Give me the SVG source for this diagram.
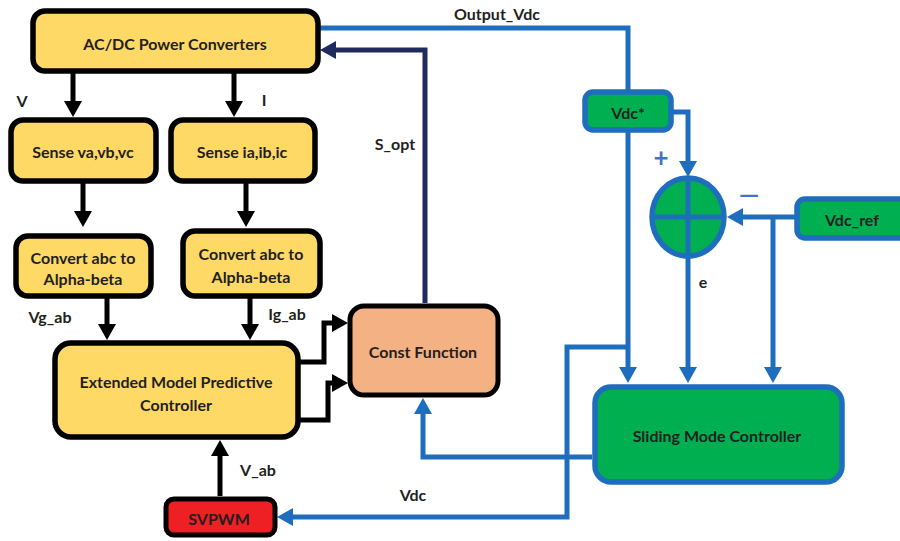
<svg xmlns="http://www.w3.org/2000/svg" width="900" height="541" viewBox="0 0 900 541">
<style>
  text{font-family:Lato,"Liberation Sans",sans-serif;font-weight:bold;font-size:16px;fill:#231f20;text-anchor:middle;dominant-baseline:central}
  .yb{fill:#FFD966;stroke:#000;stroke-width:5.5}
  .gb{fill:#00B050;stroke:#1F6EBE;stroke-width:5.5}
  .k{fill:none;stroke:#000;stroke-width:5}
  .b{fill:none;stroke:#1F6EBE;stroke-width:5}
  .n{fill:none;stroke:#1F2A5E;stroke-width:5}
  .sign{fill:#4472C4;font-size:26px}
</style>
<defs>
  <marker id="ak" markerUnits="userSpaceOnUse" markerWidth="18" markerHeight="20" refX="6" refY="9" orient="auto"><path d="M0,0 L16,9 L0,18 z" fill="#000"/></marker>
  <marker id="ab" markerUnits="userSpaceOnUse" markerWidth="18" markerHeight="20" refX="6" refY="9" orient="auto"><path d="M0,0 L16,9 L0,18 z" fill="#1F6EBE"/></marker>
  <marker id="an" markerUnits="userSpaceOnUse" markerWidth="18" markerHeight="20" refX="6" refY="9" orient="auto"><path d="M0,0 L16,9 L0,18 z" fill="#1F2A5E"/></marker>
</defs>
<g id="connectors">
  <path class="k" d="M73,73 V107" marker-end="url(#ak)"/>
  <path class="k" d="M234,73 V107" marker-end="url(#ak)"/>
  <path class="k" d="M83,183 V217" marker-end="url(#ak)"/>
  <path class="k" d="M246,183 V217" marker-end="url(#ak)"/>
  <path class="k" d="M107,298 V330" marker-end="url(#ak)"/>
  <path class="k" d="M250,298 V330" marker-end="url(#ak)"/>
  <path class="k" d="M300,362 H324 V323 H338" marker-end="url(#ak)"/>
  <path class="k" d="M300,420 H328 V383 H338" marker-end="url(#ak)"/>
  <path class="k" d="M220,496 V450" marker-end="url(#ak)"/>
  <path class="n" d="M425,303 V50 H330" marker-end="url(#an)"/>
  <path class="b" d="M320,28 H628 V373" marker-end="url(#ab)"/>
  <path class="b" d="M673,112 H688 V167" marker-end="url(#ab)"/>
  <path class="b" d="M795,217 H737" marker-end="url(#ab)"/>
  <path class="b" d="M773,217 V373" marker-end="url(#ab)"/>
  <path class="b" d="M688,256 V373" marker-end="url(#ab)"/>
  <path class="b" d="M592,457 H423 V408" marker-end="url(#ab)"/>
  <path class="b" d="M628,347 H567 V517 H287" marker-end="url(#ab)"/>
  <text x="497" y="13">Output_Vdc</text>
  <text x="395" y="143">S_opt</text>
  <text x="22" y="100">V</text>
  <text x="264" y="99">I</text>
  <text x="50" y="316">Vg_ab</text>
  <text x="287" y="313">Ig_ab</text>
  <text x="258" y="469">V_ab</text>
  <text x="413" y="494">Vdc</text>
  <text x="703" y="281">e</text>
  <text class="sign" x="661" y="157">+</text>
  <text class="sign" x="749" y="194">—</text>
</g>
<g id="acdc"><rect class="yb" x="33" y="11" width="285" height="60" rx="12"/><text x="175" y="43">AC/DC Power Converters</text></g>
<g id="sense_v"><rect class="yb" x="11" y="120" width="145" height="61" rx="12"/><text x="83" y="151">Sense va,vb,vc</text></g>
<g id="sense_i"><rect class="yb" x="171" y="120" width="144" height="61" rx="12"/><text x="242" y="151">Sense ia,ib,ic</text></g>
<g id="conv_v"><rect class="yb" x="16" y="236" width="135" height="60" rx="12"/><text x="83" y="257">Convert abc to</text><text x="83" y="278">Alpha-beta</text></g>
<g id="conv_i"><rect class="yb" x="183" y="231" width="137" height="65" rx="12"/><text x="251" y="253">Convert abc to</text><text x="251" y="276">Alpha-beta</text></g>
<g id="empc"><rect class="yb" x="55" y="343" width="243" height="94" rx="16"/><text x="176" y="381">Extended Model Predictive</text><text x="176" y="404">Controller</text></g>
<g id="cost"><rect class="k" style="fill:#F4B183" x="350" y="306" width="148" height="89" rx="14"/><text x="423" y="351">Const Function</text></g>
<g id="svpwm"><rect class="k" style="fill:#EE2024" x="166" y="499" width="109" height="36" rx="8"/><text x="219" y="518">SVPWM</text></g>
<g id="vdcstar"><rect class="gb" x="585" y="92" width="86" height="38" rx="8"/><text x="628" y="112">Vdc*</text></g>
<g id="vdcref"><rect class="gb" x="797" y="199" width="110" height="39" rx="8"/><text x="852" y="219">Vdc_ref</text></g>
<g id="sum"><ellipse class="gb" cx="688" cy="217" rx="36" ry="39"/><path class="b" d="M652,217 H724 M688,178 V256"/></g>
<g id="smc"><rect class="gb" x="595" y="387" width="247" height="95" rx="16"/><text x="717" y="435">Sliding Mode Controller</text></g>
</svg>
